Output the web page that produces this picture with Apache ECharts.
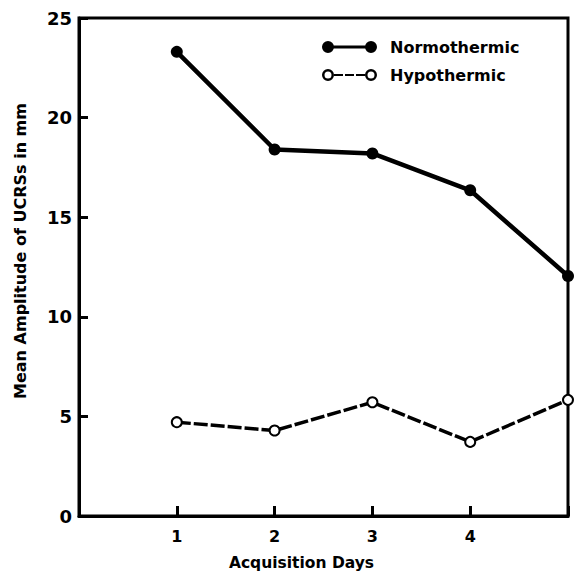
<!DOCTYPE html>
<html>
<head>
<meta charset="utf-8">
<script src="https://cdn.jsdelivr.net/npm/echarts@6/dist/echarts.min.js"></script>
<style>
  html, body { margin: 0; padding: 0; background: #fff; }
  #chart { width: 575px; height: 575px; }
</style>
</head>
<body>
<div id="chart"></div>
<script>
const days = [1, 2, 3, 4, 5];
const normothermic = [23.3, 18.4, 18.2, 16.35, 12.05];
const hypothermic = [4.71, 4.29, 5.71, 3.72, 5.83];
const xTickLabels = ['', '1', '2', '3', '4', ''];
const yTicks = [0, 5, 10, 15, 20, 25];
const seriesNames = ['Normothermic', 'Hypothermic'];
const xTitle = 'Acquisition Days';
const yTitle = 'Mean Amplitude of UCRSs in mm';

const FONT = 'DejaVu Sans';
const normIcon = 'path://M0,6A6,6,0,1,1,12,6A6,6,0,1,1,0,6Z M11,4.5L44,4.5L44,7.5L11,7.5Z M43,6A6,6,0,1,1,55,6A6,6,0,1,1,43,6Z';
const hypoIcon = 'path://M0,6A6,6,0,1,1,12,6A6,6,0,1,1,0,6Z M2.5,6A3.5,3.5,0,1,0,9.5,6A3.5,3.5,0,1,0,2.5,6Z ' +
  'M12,5L21,5L21,7L12,7Z M23,5L32,5L32,7L23,7Z M34,5L43,5L43,7L34,7Z ' +
  'M43,6A6,6,0,1,1,55,6A6,6,0,1,1,43,6Z M45.5,6A3.5,3.5,0,1,0,52.5,6A3.5,3.5,0,1,0,45.5,6Z';

const chart = echarts.init(document.getElementById('chart'), null, { renderer: 'svg' });
chart.setOption({
  animation: false,
  backgroundColor: '#fff',
  grid: {
    left: 79, right: 7, top: 18, bottom: 59,
    outerBoundsMode: 'none', containLabel: false,
    show: true, borderColor: '#000', borderWidth: 3
  },
  legend: {
    orient: 'vertical',
    left: 322,
    top: 39,
    padding: 0,
    itemWidth: 55,
    itemHeight: 12,
    itemGap: 12,
    itemStyle: { borderWidth: 0 },
    textStyle: { fontFamily: FONT, fontWeight: 'bold', fontSize: 16, color: '#000', padding: [0, 0, 0, 8] },
    data: [
      { name: seriesNames[0], icon: normIcon },
      { name: seriesNames[1], icon: hypoIcon }
    ]
  },
  xAxis: {
    type: 'value',
    min: 0,
    max: 5,
    interval: 1,
    name: xTitle,
    nameLocation: 'middle',
    nameGap: 39,
    nameTextStyle: { fontFamily: FONT, fontWeight: 'bold', fontSize: 15.5, color: '#000', padding: [0, 44, 0, 0] },
    axisLine: { lineStyle: { color: '#000', width: 3 } },
    axisTick: { inside: true, length: 10, lineStyle: { color: '#000', width: 3 } },
    axisLabel: {
      margin: 12,
      fontFamily: FONT, fontWeight: 'bold', fontSize: 16, color: '#000',
      formatter: v => xTickLabels[v] || ''
    },
    splitLine: { show: false }
  },
  yAxis: {
    type: 'value',
    min: yTicks[0],
    max: yTicks[yTicks.length - 1],
    interval: 5,
    name: yTitle,
    nameLocation: 'middle',
    nameGap: 51,
    nameTextStyle: { fontFamily: FONT, fontWeight: 'bold', fontSize: 16, color: '#000', padding: [0, 0, 0, 32] },
    axisLine: { lineStyle: { color: '#000', width: 3 } },
    axisTick: { inside: true, length: 9, lineStyle: { color: '#000', width: 3 } },
    axisLabel: { margin: 7, fontFamily: FONT, fontWeight: 'bold', fontSize: 18, color: '#000' },
    splitLine: { show: false }
  },
  series: [
    {
      name: seriesNames[0],
      type: 'line',
      data: days.map((d, i) => [d, normothermic[i]]),
      symbol: 'circle',
      symbolSize: 12,
      color: '#000',
      lineStyle: { color: '#000', width: 4.5 },
      itemStyle: { color: '#000' },
      z: 3
    },
    {
      name: seriesNames[1],
      type: 'line',
      data: days.map((d, i) => [d, hypothermic[i]]),
      symbol: 'emptyCircle',
      symbolSize: 10,
      color: '#000',
      lineStyle: { color: '#000', width: 3.5, type: [14, 3] },
      itemStyle: { color: '#000', borderWidth: 2 },
      z: 3
    }
  ]
});
</script>
</body>
</html>
